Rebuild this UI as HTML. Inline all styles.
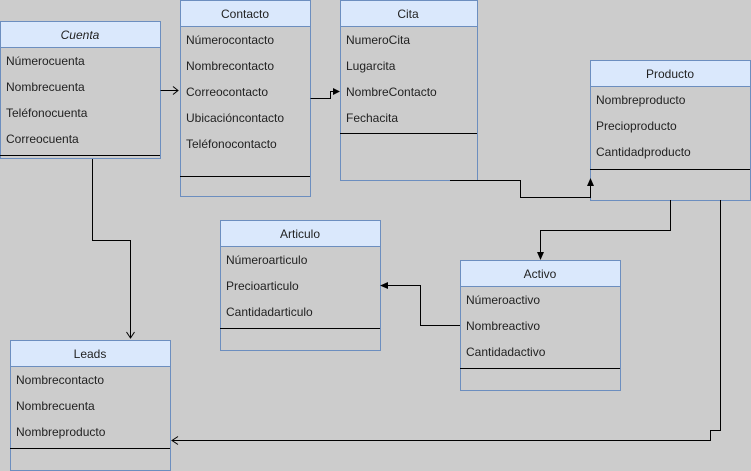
<!DOCTYPE html>
<html><head><meta charset="utf-8"><style>
html,body{margin:0;padding:0;background:#cccccc;}
svg{display:block;font-family:"Liberation Sans",Helvetica,Arial,sans-serif;font-size:12px;}
</style></head><body>
<svg width="751" height="471" viewBox="0 0 751 471" xmlns="http://www.w3.org/2000/svg">
<rect width="751" height="471" fill="#cccccc"/>
<g stroke="#6c8ebf" stroke-width="1">
<rect x="0.5" y="21.5" width="160" height="137" fill="#cccccc"/><rect x="0.5" y="21.5" width="160" height="26" fill="#dae8fc"/>
<rect x="180.5" y="0.5" width="130" height="196" fill="#cccccc"/><rect x="180.5" y="0.5" width="130" height="26" fill="#dae8fc"/>
<rect x="340.5" y="0.5" width="137" height="180" fill="#cccccc"/><rect x="340.5" y="0.5" width="137" height="26" fill="#dae8fc"/>
<rect x="590.5" y="60.5" width="160" height="140" fill="#cccccc"/><rect x="590.5" y="60.5" width="160" height="26" fill="#dae8fc"/>
<rect x="220.5" y="220.5" width="160" height="130" fill="#cccccc"/><rect x="220.5" y="220.5" width="160" height="26" fill="#dae8fc"/>
<rect x="460.5" y="260.5" width="160" height="130" fill="#cccccc"/><rect x="460.5" y="260.5" width="160" height="26" fill="#dae8fc"/>
<rect x="10.5" y="340.5" width="160" height="130" fill="#cccccc"/><rect x="10.5" y="340.5" width="160" height="26" fill="#dae8fc"/>
</g>
<g stroke="#000">
<path d="M0 155.5H160"/><path d="M180 176.5H310"/><path d="M340 133.5H477"/><path d="M590 169.5H750"/>
<path d="M220 328.5H380"/><path d="M460 368.5H620"/><path d="M10 448.5H170"/>
</g>
<g fill="none" stroke="#000" stroke-width="1">
<path d="M160.5 90.5H178"/><path d="M173 86.5L178 90.5L173 94.5"/>
<path d="M310.5 98.5H330.5V91.5H334"/>
<path d="M450 180.5H520.5V197.5H590.5V186"/>
<path d="M670.5 200V230.5H540.5V252"/>
<path d="M460 325.5H420.5V285.5H388"/>
<path d="M92.5 159V240.5H130.5V338"/><path d="M126.5 332L130.5 338L134.5 332"/>
<path d="M720.5 200V430.5H710.5V440.5H172"/><path d="M178 436.5L172 440.5L178 444.5"/>
</g>
<g fill="#000">
<path d="M340 91.5L333 88V95Z"/>
<path d="M590.5 178L587 186H594Z"/>
<path d="M540.5 260L537 252H544Z"/>
<path d="M380 285.5L388 282V289Z"/>
</g>
<g fill="#222" text-anchor="middle">
<text x="80" y="39" font-style="italic">Cuenta</text>
<text x="245" y="18">Contacto</text>
<text x="408" y="18">Cita</text>
<text x="670" y="78">Producto</text>
<text x="300" y="238">Articulo</text>
<text x="540" y="278">Activo</text>
<text x="90" y="358">Leads</text>
</g>
<g fill="#222">
<text x="6" y="65">Númerocuenta</text><text x="6" y="91">Nombrecuenta</text><text x="6" y="117">Teléfonocuenta</text><text x="6" y="143">Correocuenta</text>
<text x="186" y="44">Númerocontacto</text><text x="186" y="70">Nombrecontacto</text><text x="186" y="96">Correocontacto</text><text x="186" y="122">Ubicacióncontacto</text><text x="186" y="148">Teléfonocontacto</text>
<text x="346" y="44">NumeroCita</text><text x="346" y="70">Lugarcita</text><text x="346" y="96">NombreContacto</text><text x="346" y="122">Fechacita</text>
<text x="596" y="104">Nombreproducto</text><text x="596" y="130">Precioproducto</text><text x="596" y="156">Cantidadproducto</text>
<text x="226" y="264">Númeroarticulo</text><text x="226" y="290">Precioarticulo</text><text x="226" y="316">Cantidadarticulo</text>
<text x="466" y="304">Númeroactivo</text><text x="466" y="330">Nombreactivo</text><text x="466" y="356">Cantidadactivo</text>
<text x="16" y="384">Nombrecontacto</text><text x="16" y="410">Nombrecuenta</text><text x="16" y="436">Nombreproducto</text>
</g>
</svg>
</body></html>
